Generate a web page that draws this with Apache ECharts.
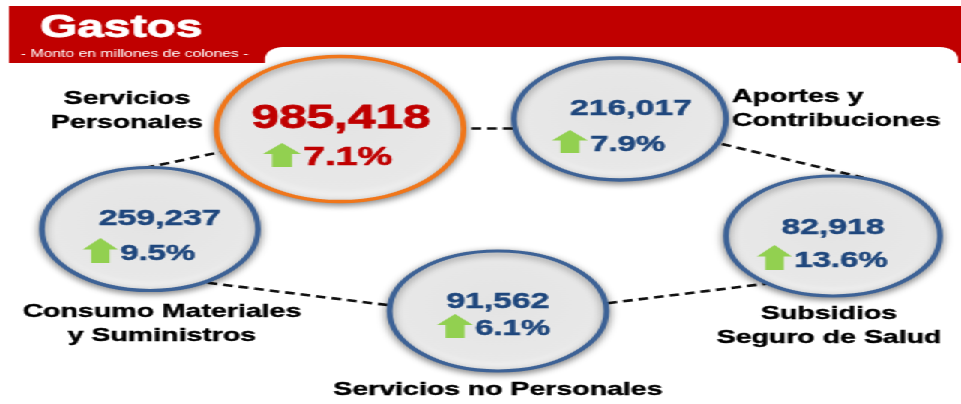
<!DOCTYPE html>
<html>
<head>
<meta charset="utf-8">
<title>Gastos</title>
<script src="https://cdn.jsdelivr.net/npm/echarts@6/dist/echarts.min.js"></script>
<style>
  html, body { margin: 0; padding: 0; background: #fff; overflow: hidden; }
  /* the original picture is stretched sideways, so the chart is drawn narrow and widened */
  #chart { width: 641px; height: 404px; transform: scaleX(1.4992); transform-origin: 0 0; }
</style>
</head>
<body>
<div id="chart"></div>
<script>
// data
const categorias = ['Servicios\nPersonales', 'Aportes y\nContribuciones', 'Consumo Materiales\ny Suministros', 'Servicios no Personales', 'Subsidios\nSeguro de Salud']
const montos = [985418, 216017, 259237, 91562, 82918]
const variaciones = [7.1, 7.9, 9.5, 6.1, 13.6]

// layout, in picture pixels (961 x 404)
const SX = 961 / 641
const centros = [[340, 129], [620, 119], [150, 229], [498, 311], [833, 236]]
const tamanos = [[247, 145], [212, 122], [216, 123], [217, 120], [214, 120]]
const posMonto = [[341, 119], [631, 109], [160, 219], [498, 302], [833, 228]]
const posFlecha = [[282, 155], [570, 141.5], [100.5, 250.5], [455, 326], [774.5, 257.5]]
const tamFlecha = [[38, 24], [36, 23], [35, 25], [36, 24], [35, 25]]
const posNombre = [[127, 111], [732, 109], [162, 323.5], [498, 390], [829, 326]]
const alinNombre = ['center', 'left', 'center', 'center', 'center']
const conectores = [
  [[440, 128], [540, 128]],
  [[707, 140.4], [863, 177.6]],
  [[772, 283], [593, 305]],
  [[403, 307], [193, 281]],
  [[145, 168], [235, 149]],
]

const FONT = "'Liberation Sans', Arial, sans-serif"
const ROJO = '#C00000'
const AZUL = '#1F477D'
const ELIPSE = 'path://M0,50 A50,50 0 1,1 100,50 A50,50 0 1,1 0,50 Z'
const FLECHA = 'path://M0,11 L19,0 L38,11 L29,11 L29,24 L9,24 L9,11 Z'

const chart = echarts.init(document.getElementById('chart'))

// heavier strokes, the source type is darker than plain bold
function grueso(color, w) {
  return { color: color, textBorderColor: color, textBorderWidth: w }
}

const option = {
  animation: false,
  title: [
    {
      text: 'Gastos',
      left: 40 / SX,
      top: 12,
      padding: 0,
      textStyle: Object.assign({ fontSize: 32, fontWeight: 'bold', fontFamily: FONT }, grueso('#fff', 0.8)),
    },
    {
      text: '- Monto en millones de colones -',
      left: 21 / SX,
      top: 48.5,
      padding: 0,
      textStyle: { color: '#fff', fontSize: 10.5, fontWeight: 'normal', fontFamily: FONT },
    },
  ],
  graphic: [
    {
      type: 'rect',
      z: -10,
      silent: true,
      shape: { x: 9 / SX, y: 6, width: (961 - 9) / SX, height: 57 },
      style: { fill: ROJO },
    },
    {
      type: 'rect',
      z: -9,
      silent: true,
      shape: { x: 265 / SX, y: 47, width: (958 - 265) / SX, height: 404 - 47, r: [12, 12, 0, 0] },
      style: { fill: '#fff' },
    },
  ],
  grid: { left: 0, right: 0, top: 0, bottom: 0 },
  xAxis: { type: 'value', min: 0, max: 961, show: false },
  yAxis: { type: 'value', min: 0, max: 404, inverse: true, show: false },
  series: [
    {
      type: 'lines',
      coordinateSystem: 'cartesian2d',
      silent: true,
      z: 1,
      lineStyle: { color: '#111', width: 2.6, opacity: 1, type: [6.5, 4] },
      data: conectores.map((c) => ({ coords: c })),
    },
    {
      name: 'circulos',
      type: 'scatter',
      silent: true,
      z: 3,
      symbol: ELIPSE,
      symbolKeepAspect: false,
      itemStyle: {
        opacity: 1,
        color: {
          type: 'radial',
          x: 0.5,
          y: 0.45,
          r: 0.56,
          colorStops: [
            { offset: 0, color: '#e4e4e4' },
            { offset: 0.8, color: '#e8e8e8' },
            { offset: 0.93, color: '#f2f2f2' },
            { offset: 1, color: '#ffffff' },
          ],
        },
        borderWidth: 3.5,
        shadowBlur: 6,
        shadowOffsetY: 2,
        shadowColor: 'rgba(0,0,0,0.45)',
      },
      data: centros.map((c, i) => ({
        value: c,
        symbolSize: [tamanos[i][0] / SX, tamanos[i][1]],
        itemStyle: { borderColor: i === 0 ? '#F0761A' : '#3D6296' },
      })),
    },
    {
      name: 'montos',
      type: 'scatter',
      silent: true,
      z: 4,
      symbolSize: 1,
      itemStyle: { color: 'rgba(0,0,0,0)', opacity: 1 },
      label: {
        show: true,
        position: 'inside',
        fontFamily: FONT,
        fontWeight: 'bold',
        formatter: (p) => montos[p.dataIndex].toLocaleString('en-US'),
      },
      data: posMonto.map((p, i) => ({
        value: p,
        label: i === 0 ? Object.assign({ fontSize: 33 }, grueso(ROJO, 0.8)) : Object.assign({ fontSize: 22.5 }, grueso(AZUL, 0.5)),
      })),
    },
    {
      name: 'variaciones',
      type: 'scatter',
      silent: true,
      z: 4,
      symbol: FLECHA,
      symbolKeepAspect: false,
      itemStyle: { color: '#92D050', opacity: 1 },
      label: {
        show: true,
        position: 'right',
        distance: 1.5,
        offset: [0, 3],
        fontFamily: FONT,
        fontWeight: 'bold',
        formatter: (p) => variaciones[p.dataIndex].toFixed(1) + '%',
      },
      data: posFlecha.map((p, i) => ({
        value: p,
        symbolSize: [tamFlecha[i][0] / SX, tamFlecha[i][1]],
        label: i === 0 ? Object.assign({ fontSize: 26 }, grueso(ROJO, 0.7)) : Object.assign({ fontSize: 22 }, grueso(AZUL, 0.5)),
      })),
    },
    {
      name: 'nombres',
      type: 'scatter',
      silent: true,
      z: 4,
      symbolSize: 1,
      itemStyle: { color: 'rgba(0,0,0,0)', opacity: 1 },
      label: Object.assign({
        show: true,
        position: 'inside',
        fontFamily: FONT,
        fontWeight: 'bold',
        fontSize: 19,
        lineHeight: 24,
        formatter: (p) => categorias[p.dataIndex],
      }, grueso('#000', 0.4)),
      data: posNombre.map((p, i) => ({
        value: p,
        label: { align: alinNombre[i] },
      })),
    },
  ],
}

chart.setOption(option)
</script>
</body>
</html>
